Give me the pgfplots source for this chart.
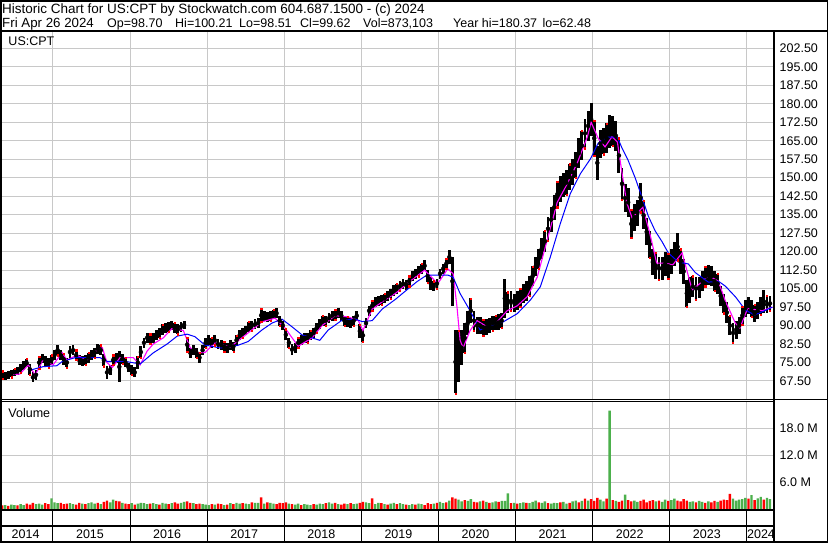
\documentclass[border=0pt]{standalone}
\usepackage{pgfplots}
\pgfplotsset{compat=1.18}
\usepackage{pgfplotstable}
\usepackage{fontspec}
\setmainfont{Liberation Sans}
\definecolor{gridgray}{RGB}{200,200,200}
\definecolor{volgreen}{RGB}{76,176,76}
\definecolor{volred}{RGB}{255,0,0}
\definecolor{mamag}{RGB}{255,0,255}
\definecolor{mablue}{RGB}{0,0,255}
\newcommand{\chartfont}{\fontsize{12.5}{15}\selectfont}
\newcommand{\headfont}{\fontsize{13.5}{16}\selectfont}

% x = decimal year, lo/hi = price range, v = volume (millions), c = 1 up (green) / 0 down (red)
\pgfplotstableread{
x lo hi v c
2014.34 68.5 71.5 0.9 0
2014.38 68.0 71.0 1.0 1
2014.42 68.5 71.5 0.8 0
2014.46 69.0 72.0 1.1 1
2014.50 69.5 72.5 1.0 1
2014.54 70.0 73.0 0.9 0
2014.58 71.0 74.5 1.2 1
2014.62 72.0 75.5 1.0 1
2014.66 73.0 76.5 1.3 0
2014.70 70.0 74.5 1.1 0
2014.74 67.0 71.0 1.5 0
2014.78 68.0 72.0 1.2 1
2014.82 72.5 77.5 1.3 1
2014.86 75.0 78.5 1.1 1
2014.90 73.5 77.5 1.4 0
2014.94 73.0 77.0 1.2 0
2014.98 74.0 78.0 2.5 1
2015.02 76.0 80.0 1.6 1
2015.06 78.0 82.0 1.4 1
2015.10 76.0 80.0 1.5 0
2015.14 74.0 78.5 1.2 0
2015.18 73.0 77.0 1.3 0
2015.22 77.0 81.5 1.4 1
2015.26 78.0 82.0 1.2 1
2015.30 76.0 80.0 1.1 0
2015.34 74.0 78.0 1.5 0
2015.38 73.5 77.5 1.3 1
2015.42 74.0 78.0 1.2 0
2015.46 75.0 79.0 1.4 1
2015.50 76.0 80.0 1.6 1
2015.54 77.0 81.0 1.3 1
2015.58 78.5 82.5 1.5 0
2015.62 78.0 82.0 1.2 1
2015.66 73.5 78.5 1.7 0
2015.70 68.5 73.5 2.0 0
2015.74 70.0 74.0 1.6 1
2015.78 74.0 78.0 2.2 1
2015.82 75.0 79.0 1.9 0
2015.86 67.0 79.5 1.8 0
2015.90 74.5 78.5 1.5 1
2015.94 73.0 77.0 1.3 0
2015.98 71.0 75.0 1.2 0
2016.02 70.0 74.0 1.4 1
2016.06 69.0 73.0 1.1 0
2016.10 72.5 77.5 1.3 1
2016.14 77.0 81.5 1.5 1
2016.18 81.0 85.0 1.4 1
2016.22 83.0 87.0 1.2 1
2016.26 82.5 86.5 1.3 0
2016.30 83.0 87.0 1.4 1
2016.34 84.0 88.0 1.2 1
2016.38 85.0 89.0 1.1 0
2016.42 86.0 90.5 1.5 1
2016.46 87.0 91.0 1.3 1
2016.50 87.5 91.5 1.2 0
2016.54 88.0 92.0 1.4 1
2016.58 87.0 91.0 1.6 0
2016.62 86.5 90.5 1.3 0
2016.66 87.5 91.5 1.5 1
2016.70 88.5 92.0 1.7 1
2016.74 79.5 85.0 1.8 0
2016.78 77.0 81.0 1.5 0
2016.82 78.0 82.0 1.4 1
2016.86 77.0 81.0 1.2 0
2016.90 75.0 79.0 1.3 0
2016.94 78.0 82.0 1.2 1
2016.98 81.0 85.0 1.1 1
2017.02 82.0 86.0 1.0 1
2017.06 81.0 85.0 1.2 0
2017.10 82.0 86.0 1.1 1
2017.14 80.5 84.5 1.3 0
2017.18 80.0 84.0 1.2 0
2017.22 79.5 83.5 1.0 1
2017.26 79.0 83.0 1.1 0
2017.30 80.0 84.0 1.4 1
2017.34 79.5 83.5 1.2 0
2017.38 82.0 86.0 1.5 1
2017.42 84.0 88.0 1.3 1
2017.46 85.0 89.0 1.4 0
2017.50 86.0 90.0 1.3 1
2017.54 87.5 91.5 1.2 1
2017.58 88.0 92.0 1.6 0
2017.62 88.5 92.5 1.5 1
2017.66 89.0 93.0 1.5 1
2017.70 91.5 96.8 2.7 0
2017.74 92.0 96.0 1.3 1
2017.78 91.5 95.5 1.6 0
2017.82 92.0 96.0 1.5 1
2017.86 92.5 96.5 1.3 1
2017.90 93.0 97.0 1.2 0
2017.94 90.0 94.0 1.5 0
2017.98 88.0 92.0 1.4 0
2018.02 84.0 88.5 1.6 0
2018.06 81.0 85.0 1.3 1
2018.10 78.0 82.5 1.2 0
2018.14 79.0 83.0 1.1 1
2018.18 81.0 85.0 1.3 1
2018.22 82.0 86.0 1.0 0
2018.26 83.0 87.0 1.2 1
2018.30 83.0 87.0 1.1 1
2018.34 84.0 88.0 1.0 1
2018.38 85.0 89.0 1.2 0
2018.42 87.0 91.0 1.1 1
2018.46 88.5 92.5 1.3 1
2018.50 90.0 94.0 1.2 1
2018.54 90.0 94.0 1.4 0
2018.58 91.0 95.0 1.6 1
2018.62 92.0 96.0 1.3 1
2018.66 92.5 96.5 1.5 0
2018.70 93.0 97.0 1.2 1
2018.74 92.0 96.0 1.1 0
2018.78 90.0 94.0 1.3 0
2018.82 89.5 93.5 1.2 1
2018.86 89.0 93.0 1.4 0
2018.90 90.0 94.0 1.2 1
2018.94 92.0 96.0 1.3 1
2018.98 85.0 90.5 1.5 0
2019.02 83.5 88.5 1.7 0
2019.06 89.0 93.0 1.6 1
2019.10 94.0 98.0 1.4 1
2019.14 96.0 100.0 2.5 0
2019.18 97.5 101.5 1.2 1
2019.22 98.0 102.0 1.5 1
2019.26 98.5 102.5 1.4 0
2019.30 99.0 103.0 1.2 1
2019.34 100.0 104.0 1.1 0
2019.38 101.0 105.0 1.3 1
2019.42 102.0 106.5 1.5 1
2019.46 103.0 107.0 1.2 0
2019.50 104.0 108.0 1.4 1
2019.54 105.0 109.0 1.2 1
2019.58 104.5 108.5 1.1 0
2019.62 106.0 110.0 1.0 1
2019.66 108.0 112.0 1.2 1
2019.70 109.0 113.0 1.1 0
2019.74 110.0 114.0 1.3 1
2019.78 111.0 115.0 1.2 1
2019.82 112.0 116.5 1.0 0
2019.86 107.5 112.5 1.4 0
2019.90 104.5 109.5 1.2 0
2019.94 104.0 108.0 1.3 1
2019.98 105.0 109.0 1.5 0
2020.02 109.0 113.0 1.7 1
2020.06 111.0 115.0 1.4 1
2020.10 113.0 117.0 1.6 0
2020.14 115.0 120.5 2.0 1
2020.18 98.0 118.0 2.7 0
2020.22 62.5 88.0 2.4 0
2020.26 67.0 88.0 2.2 1
2020.30 74.0 88.0 1.8 1
2020.34 79.0 91.0 2.1 0
2020.38 86.0 96.0 1.9 1
2020.42 91.0 101.0 2.3 1
2020.46 88.0 96.0 1.7 0
2020.50 86.5 93.5 1.6 0
2020.54 86.5 93.5 1.8 1
2020.58 86.0 92.5 2.0 0
2020.62 86.0 92.5 1.7 1
2020.66 87.0 93.0 1.5 0
2020.70 88.0 94.0 1.6 1
2020.74 88.0 94.0 1.8 1
2020.78 88.0 94.5 1.7 0
2020.82 89.0 95.0 1.9 1
2020.86 93.0 109.0 1.9 1
2020.90 95.0 103.5 3.6 1
2020.94 96.0 104.0 1.4 0
2020.98 95.5 103.0 1.5 1
2021.02 96.5 104.0 1.3 0
2021.06 97.5 105.0 1.4 1
2021.10 99.0 107.0 1.6 1
2021.14 100.0 108.0 1.5 0
2021.18 102.0 110.0 1.4 1
2021.22 106.0 114.0 1.7 1
2021.26 110.0 118.0 2.0 1
2021.30 113.0 121.0 1.6 0
2021.34 117.0 125.5 1.5 1
2021.38 120.0 128.5 1.8 1
2021.42 124.5 134.0 1.4 0
2021.46 128.0 138.0 1.3 1
2021.50 133.0 143.0 1.5 1
2021.54 138.0 148.5 1.4 1
2021.58 140.0 150.5 1.6 0
2021.62 142.0 152.0 1.7 1
2021.66 143.0 153.0 1.3 1
2021.70 145.0 155.5 1.5 0
2021.74 147.0 157.5 1.8 1
2021.78 150.0 160.5 2.0 1
2021.82 154.0 166.0 1.6 0
2021.86 157.0 169.0 1.9 1
2021.90 162.0 174.0 2.4 0
2021.94 165.0 177.0 2.0 1
2021.98 167.0 180.4 2.3 0
2022.02 159.0 173.0 1.9 0
2022.06 149.0 163.0 2.6 0
2022.10 158.0 169.5 2.2 1
2022.14 159.5 170.0 1.8 1
2022.18 160.0 172.0 2.4 0
2022.22 162.0 175.5 22.0 1
2022.26 163.0 175.0 2.1 0
2022.30 161.0 173.0 1.9 1
2022.34 152.0 166.0 1.7 0
2022.38 141.0 154.0 2.0 0
2022.42 136.0 147.5 3.3 1
2022.46 134.0 146.0 2.1 0
2022.50 125.5 137.0 1.8 0
2022.54 128.5 139.5 2.0 1
2022.58 130.5 141.0 1.7 1
2022.62 136.0 148.0 1.9 0
2022.66 129.0 140.5 2.2 0
2022.70 122.5 133.5 1.6 0
2022.74 117.5 128.5 1.9 0
2022.78 110.5 121.0 2.1 0
2022.82 109.0 119.5 1.8 1
2022.86 108.5 118.0 2.0 0
2022.90 108.5 118.0 1.7 1
2022.94 110.0 120.0 2.2 1
2022.98 109.0 119.0 1.9 0
2023.02 111.0 121.0 2.1 1
2023.06 114.0 124.0 2.4 1
2023.10 116.5 127.5 2.0 0
2023.14 111.0 121.0 1.8 0
2023.18 107.0 117.0 2.3 0
2023.22 97.6 108.5 2.0 0
2023.26 99.0 109.5 1.7 1
2023.30 101.5 110.0 1.8 1
2023.34 100.5 109.5 1.6 0
2023.38 101.0 109.5 1.9 1
2023.42 104.0 112.0 1.7 1
2023.46 106.0 114.0 1.5 0
2023.50 106.5 114.5 1.8 1
2023.54 106.0 114.0 1.6 0
2023.58 104.0 112.0 1.9 0
2023.62 103.0 111.0 1.7 1
2023.66 98.0 106.0 2.0 0
2023.70 95.0 103.0 2.2 0
2023.74 91.0 99.5 2.1 0
2023.78 86.0 94.0 3.5 0
2023.82 83.0 91.0 2.4 1
2023.86 84.5 92.0 2.0 1
2023.90 86.5 93.5 2.2 1
2023.94 90.5 97.5 2.3 1
2023.98 93.5 100.5 2.6 1
2024.02 94.5 101.5 2.4 0
2024.06 93.5 100.5 3.2 1
2024.10 91.5 98.5 2.1 0
2024.14 92.5 99.5 2.5 1
2024.18 94.5 101.5 2.8 1
2024.22 95.0 104.5 2.2 0
2024.26 95.0 102.0 2.6 1
2024.30 96.0 102.0 2.3 1
}\daily

\pgfplotstableread{
x ma
2014.40 70
2014.57 70.3
2014.68 74
2014.77 70
2014.87 76
2015.00 74
2015.12 79
2015.18 76
2015.31 78
2015.44 76
2015.57 80
2015.64 81
2015.70 75
2015.77 73
2015.87 77
2016.04 77
2016.13 74
2016.22 79.6
2016.30 82.5
2016.43 85
2016.54 88.7
2016.69 88
2016.78 81
2016.87 79
2016.97 79
2017.10 83
2017.30 81.3
2017.53 87
2017.71 91.5
2017.88 93
2018.01 89
2018.18 81.6
2018.36 85
2018.49 90
2018.66 94
2018.83 93.5
2018.96 92
2019.02 88
2019.14 96.7
2019.31 100.5
2019.44 103
2019.63 108
2019.82 112.5
2019.99 107
2020.12 113
2020.19 111
2020.24 97.5
2020.28 84
2020.32 81
2020.41 88
2020.50 92
2020.63 89.5
2020.76 91.5
2020.89 96
2021.02 98
2021.15 101.7
2021.28 109.6
2021.41 124.7
2021.54 140
2021.67 147.5
2021.80 156
2021.93 166.5
2021.98 172.5
2022.07 166
2022.16 162.5
2022.25 166.6
2022.32 164.5
2022.38 152
2022.44 140
2022.51 133.8
2022.59 136
2022.65 138
2022.74 127.5
2022.83 115.3
2022.94 115.3
2023.04 114.7
2023.16 119.5
2023.22 112.5
2023.29 104.5
2023.37 106.5
2023.50 110.3
2023.63 108
2023.72 100
2023.85 91
2023.91 89
2024.01 97
2024.10 96.5
2024.20 96
2024.33 97.5
}\mashort

\pgfplotstableread{
x ma
2014.68 71.7
2014.87 73.3
2015.05 73.7
2015.12 75.4
2015.29 77
2015.61 77
2015.70 75.5
2015.93 75.5
2016.13 74.4
2016.30 78.9
2016.48 82.5
2016.61 85.7
2016.74 86.5
2016.84 85.5
2016.97 82.1
2017.17 80.9
2017.40 82
2017.53 83.5
2017.71 88.2
2017.84 91
2017.97 92.6
2018.10 89.5
2018.23 86.2
2018.36 85
2018.46 84
2018.57 88.2
2018.75 92.2
2018.92 92.6
2019.01 91.6
2019.14 92
2019.27 96.7
2019.44 100.6
2019.54 103.2
2019.72 107.8
2019.85 110.5
2020.12 110.5
2020.19 109.6
2020.28 103
2020.41 96
2020.54 88.2
2020.67 90
2020.84 91.5
2021.02 94.8
2021.19 100.3
2021.32 105.7
2021.45 117.8
2021.58 131.4
2021.71 143.6
2021.84 151.6
2021.97 157.6
2022.07 164
2022.20 166.5
2022.32 166.5
2022.38 162
2022.46 157
2022.55 150
2022.64 142
2022.72 134.5
2022.81 128.4
2022.90 124
2022.98 119.5
2023.11 115.8
2023.24 115
2023.33 111.5
2023.50 107.6
2023.63 108
2023.72 106
2023.85 101.7
2023.98 96.3
2024.10 94.3
2024.23 96
2024.33 97.5
}\malong

\pgfplotsset{
  panel/.style={
    scale only axis, anchor=south west,
    xmin=2014.3321, xmax=2024.3450,
    axis line style={draw=none},
    xtick={2015,2016,2017,2018,2019,2020,2021,2022,2023,2024}, xticklabels={},
    major tick length=0pt,
    xmajorgrids, grid style={gridgray, line width=1pt},
    tick label style={font=\chartfont},
    /pgf/number format/assume math mode=true,
  }
}

\begin{document}
\begin{tikzpicture}
\fill[white] (0pt,0pt) rectangle (830pt,543pt);

% price panel
\begin{axis}[panel, at={(1.5pt,143pt)}, width=772pt, height=369pt,
  ymin=59.79, ymax=209.52, ymajorgrids,
  ytick={67.5,75,82.5,90,97.5,105,112.5,120,127.5,135,142.5,150,157.5,165,172.5,180,187.5,195,202.5},
  yticklabel pos=right,
  yticklabel style={anchor=west, inner sep=0pt, xshift=6pt,
     /pgf/number format/.cd, fixed, fixed zerofill, precision=2},
]
\addplot[only marks, mark=none, error bars/.cd, y dir=both, y explicit, error mark=none,
  error bar style={line width=2.9pt, black, solid}]
  table[x=x, y expr={(\thisrow{lo}+\thisrow{hi})/2}, y error expr={(\thisrow{hi}-\thisrow{lo})/2}] {\daily};
\addplot[only marks, mark=square*, mark size=0.6pt, red, each nth point=3] table[x=x,y=lo]{\daily};
\addplot[only marks, mark=square*, mark size=0.6pt, red, each nth point=4] table[x=x,y=hi]{\daily};
\addplot[mamag, line width=1.1pt] table[x=x,y=ma]{\mashort};
\addplot[mablue, line width=1pt] table[x=x,y=ma]{\malong};
\end{axis}

% volume panel
\begin{axis}[panel, at={(1.5pt,33.5pt)}, width=772pt, height=107.5pt,
  ymin=0, ymax=23.9, ymajorgrids,
  ytick={6,12,18}, yticklabels={6.0 M,12.0 M,18.0 M},
  yticklabel pos=right,
  yticklabel style={anchor=west, inner sep=0pt, xshift=6pt},
]
\addplot[ybar, bar width=2.4pt, bar shift=0pt, draw=none, fill=volred]
  table[x=x, y expr={\thisrow{v}*(1-\thisrow{c})}]{\daily};
\addplot[ybar, bar width=2.4pt, bar shift=0pt, draw=none, fill=volgreen]
  table[x=x, y expr={\thisrow{v}*\thisrow{c}}]{\daily};
\end{axis}

% year strip
\begin{axis}[panel, at={(1.5pt,1.5pt)}, width=772pt, height=32pt,
  ymin=0, ymax=1, ytick=\empty, grid style={black, line width=1pt}]
\foreach \yr/\pos in {2014/2014.645,2015/2015.48,2016/2016.48,2017/2017.48,2018/2018.48,2019/2019.48,2020/2020.48,2021/2021.48,2022/2022.48,2023/2023.48}{
  \edef\temp{\noexpand\node[font=\noexpand\chartfont, anchor=base, inner sep=0pt] at (axis cs:\pos,0.08) {\yr};}
  \temp
}
\node[font=\chartfont, anchor=base west, inner sep=0pt] at (axis cs:2024.0,0.08) {2024};
\end{axis}

% frame and separators
\draw[line width=1.6pt] (0.8pt,1.2pt) rectangle (827.5pt,542.2pt);
\draw[line width=2pt] (0pt,512.3pt) -- (828pt,512.3pt);
\draw[line width=2pt] (773.8pt,512.3pt) -- (773.8pt,1.2pt);
\draw[line width=1pt] (0pt,143pt) -- (828pt,143pt);
\draw[line width=1pt] (0pt,141pt) -- (773.8pt,141pt);
\draw[line width=2pt] (0pt,33pt) -- (773.8pt,33pt);
\draw[line width=2pt] (0pt,16.5pt) -- (773.8pt,16.5pt);

% texts
\node[anchor=base west, inner sep=0pt, font=\headfont] at (2pt,529.7pt) {Historic Chart for US:CPT by Stockwatch.com 604.687.1500 - (c) 2024};
\begin{scope}[every node/.style={anchor=base west, inner sep=0pt, font=\chartfont}]
\node[font=\fontsize{13.3}{16}\selectfont] at (2pt,515.7pt) {Fri Apr 26 2024};
\node at (107pt,515.7pt) {Op=98.70};
\node at (175pt,515.7pt) {Hi=100.21};
\node at (239pt,515.7pt) {Lo=98.51};
\node at (300pt,515.7pt) {Cl=99.62};
\node at (363pt,515.7pt) {Vol=873,103};
\node at (453pt,515.7pt) {Year hi=180.37};
\node at (542.5pt,515.7pt) {lo=62.48};
\node at (8.3pt,497.3pt) {US:CPT};
\node at (8.3pt,125.3pt) {Volume};
\end{scope}

\pgfresetboundingbox
\useasboundingbox (0pt,0pt) rectangle (830pt,543pt);
\end{tikzpicture}
\end{document}
